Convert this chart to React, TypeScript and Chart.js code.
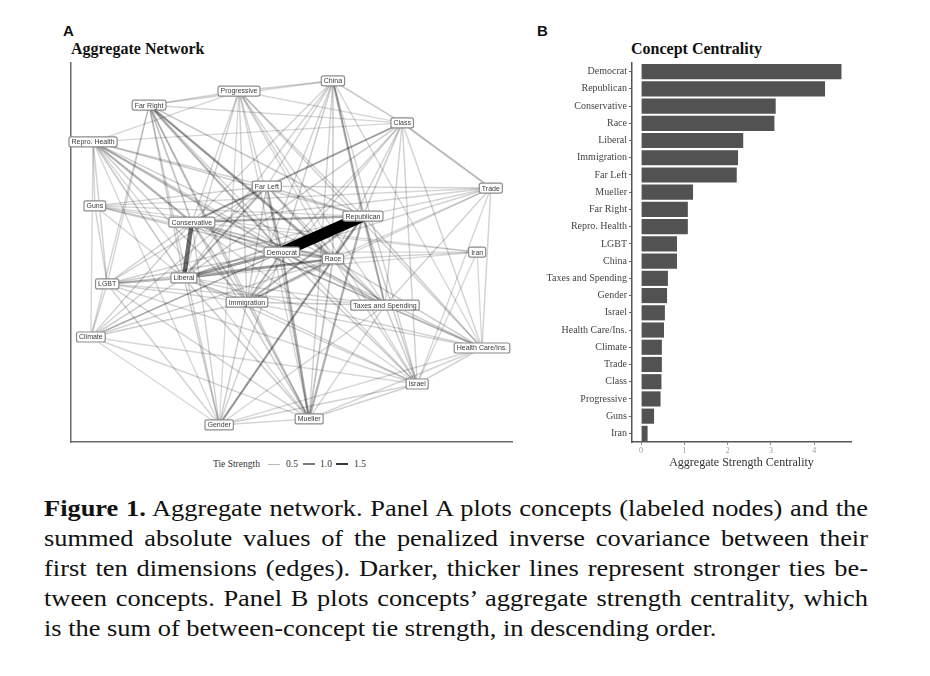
import React, { useEffect, useRef } from "react";
import { Chart, registerables } from "chart.js";

Chart.register(...registerables);

const SERIF = '"Liberation Serif", "Times New Roman", serif';
const SANS = '"Liberation Sans", Arial, sans-serif';

// ---------- Panel A: network layout (node coordinates in layout units 0-100) ----------
const nodeNames = [
  "China", "Progressive", "Far Right", "Class", "Repro. Health", "Far Left", "Trade", "Guns",
  "Conservative", "Republican", "Democrat", "Race", "Iran", "Liberal", "LGBT", "Immigration",
  "Taxes and Spending", "Climate", "Health Care/Ins.", "Israel", "Mueller", "Gender",
];
const nodeX = [59.4, 38.1, 17.7, 75.1, 5.0, 44.4, 95.2, 5.4, 27.4, 66.2, 47.8, 59.4, 92.1, 25.6, 8.2, 39.9, 71.2, 4.5, 93.2, 78.5, 54.0, 33.6];
const nodeY = [95.3, 92.6, 88.9, 84.2, 79.2, 67.5, 67.0, 62.3, 58.0, 59.6, 50.1, 48.3, 50.1, 43.3, 41.7, 36.9, 36.1, 27.7, 24.8, 15.3, 6.1, 4.5];

// edges: [from, to, tie strength]
const edgeList: [string, string, number][] = [
  ["Democrat", "Republican", 2.6],
  ["Conservative", "Liberal", 1.2],
  ["Democrat", "Liberal", 0.7],
  ["Liberal", "Race", 0.6],
  ["Republican", "Race", 0.6],
  ["Conservative", "Republican", 0.55],
  ["Democrat", "Race", 0.5],
  ["Far Right", "Race", 0.55],
  ["Far Right", "Democrat", 0.45],
  ["Democrat", "Mueller", 0.55],
  ["Republican", "Mueller", 0.5],
  ["China", "Republican", 0.45],
  ["Race", "Gender", 0.5],
  ["Class", "Trade", 0.4],
  ["Class", "Far Left", 0.4],
  ["Far Left", "Conservative", 0.5],
  ["Far Left", "Liberal", 0.45],
  ["Immigration", "Race", 0.5],
  ["Immigration", "Republican", 0.45],
  ["Immigration", "Democrat", 0.45],
  ["Repro. Health", "Conservative", 0.5],
  ["Repro. Health", "Democrat", 0.35],
  ["Republican", "Taxes and Spending", 0.4],
  ["Liberal", "LGBT", 0.4],
  ["Conservative", "Democrat", 0.4],
  ["Conservative", "Race", 0.35],
  ["Liberal", "Republican", 0.35],
  ["Far Left", "Democrat", 0.35],
  ["Far Left", "Race", 0.3],
  ["Mueller", "Race", 0.3],
  ["Mueller", "Immigration", 0.3],
  ["Far Right", "Conservative", 0.3],
  ["China", "Progressive", 0.15],
  ["China", "Far Right", 0.12],
  ["China", "Class", 0.25],
  ["China", "Far Left", 0.15],
  ["China", "Conservative", 0.15],
  ["China", "Liberal", 0.15],
  ["China", "Immigration", 0.15],
  ["China", "Democrat", 0.2],
  ["China", "Race", 0.2],
  ["China", "Taxes and Spending", 0.15],
  ["China", "Israel", 0.15],
  ["China", "Health Care/Ins.", 0.12],
  ["China", "Mueller", 0.15],
  ["Progressive", "Far Right", 0.15],
  ["Progressive", "Class", 0.12],
  ["Progressive", "Repro. Health", 0.12],
  ["Progressive", "Conservative", 0.15],
  ["Progressive", "Liberal", 0.15],
  ["Progressive", "Immigration", 0.15],
  ["Progressive", "Democrat", 0.15],
  ["Progressive", "Race", 0.12],
  ["Progressive", "Taxes and Spending", 0.15],
  ["Progressive", "Israel", 0.12],
  ["Progressive", "Health Care/Ins.", 0.15],
  ["Progressive", "Mueller", 0.12],
  ["Progressive", "Gender", 0.1],
  ["Progressive", "Republican", 0.15],
  ["Far Right", "Class", 0.12],
  ["Far Right", "Republican", 0.25],
  ["Far Right", "Liberal", 0.2],
  ["Far Right", "Immigration", 0.2],
  ["Far Right", "Climate", 0.12],
  ["Far Right", "Gender", 0.15],
  ["Far Right", "Taxes and Spending", 0.15],
  ["Far Right", "Mueller", 0.2],
  ["Far Right", "Israel", 0.15],
  ["Far Right", "LGBT", 0.12],
  ["Class", "Conservative", 0.15],
  ["Class", "Liberal", 0.2],
  ["Class", "Republican", 0.2],
  ["Class", "Race", 0.15],
  ["Class", "Taxes and Spending", 0.15],
  ["Class", "Israel", 0.15],
  ["Class", "Health Care/Ins.", 0.15],
  ["Class", "Immigration", 0.15],
  ["Class", "Democrat", 0.15],
  ["Class", "Repro. Health", 0.12],
  ["Repro. Health", "Guns", 0.15],
  ["Repro. Health", "LGBT", 0.15],
  ["Repro. Health", "Climate", 0.12],
  ["Repro. Health", "Liberal", 0.25],
  ["Repro. Health", "Race", 0.2],
  ["Repro. Health", "Immigration", 0.2],
  ["Repro. Health", "Far Left", 0.15],
  ["Repro. Health", "Republican", 0.2],
  ["Repro. Health", "Taxes and Spending", 0.15],
  ["Repro. Health", "Mueller", 0.12],
  ["Repro. Health", "Gender", 0.12],
  ["Far Left", "Trade", 0.15],
  ["Far Left", "Guns", 0.15],
  ["Far Left", "Immigration", 0.2],
  ["Far Left", "Taxes and Spending", 0.15],
  ["Far Left", "Mueller", 0.2],
  ["Far Left", "LGBT", 0.15],
  ["Far Left", "Climate", 0.15],
  ["Far Left", "Republican", 0.25],
  ["Trade", "Guns", 0.12],
  ["Trade", "Conservative", 0.15],
  ["Trade", "Republican", 0.15],
  ["Trade", "Democrat", 0.15],
  ["Trade", "Race", 0.12],
  ["Trade", "Immigration", 0.12],
  ["Trade", "Health Care/Ins.", 0.15],
  ["Trade", "Israel", 0.12],
  ["Trade", "Taxes and Spending", 0.15],
  ["Guns", "LGBT", 0.15],
  ["Guns", "Republican", 0.15],
  ["Guns", "Democrat", 0.2],
  ["Guns", "Race", 0.15],
  ["Guns", "Iran", 0.1],
  ["Guns", "Conservative", 0.15],
  ["Guns", "Liberal", 0.12],
  ["Conservative", "Immigration", 0.25],
  ["Conservative", "Taxes and Spending", 0.2],
  ["Conservative", "Mueller", 0.2],
  ["Conservative", "Gender", 0.15],
  ["Conservative", "LGBT", 0.15],
  ["Conservative", "Climate", 0.15],
  ["Conservative", "Iran", 0.1],
  ["Conservative", "Israel", 0.12],
  ["Conservative", "Health Care/Ins.", 0.12],
  ["Republican", "Israel", 0.2],
  ["Republican", "Health Care/Ins.", 0.2],
  ["Republican", "Climate", 0.15],
  ["Republican", "LGBT", 0.15],
  ["Republican", "Gender", 0.15],
  ["Democrat", "LGBT", 0.2],
  ["Democrat", "Climate", 0.2],
  ["Democrat", "Taxes and Spending", 0.25],
  ["Democrat", "Israel", 0.2],
  ["Democrat", "Health Care/Ins.", 0.2],
  ["Democrat", "Iran", 0.1],
  ["Democrat", "Gender", 0.15],
  ["Race", "Iran", 0.15],
  ["Race", "LGBT", 0.2],
  ["Race", "Climate", 0.15],
  ["Race", "Taxes and Spending", 0.2],
  ["Race", "Israel", 0.15],
  ["Race", "Health Care/Ins.", 0.2],
  ["Liberal", "Immigration", 0.3],
  ["Liberal", "Climate", 0.2],
  ["Liberal", "Mueller", 0.2],
  ["Liberal", "Gender", 0.2],
  ["Liberal", "Taxes and Spending", 0.15],
  ["Liberal", "Iran", 0.1],
  ["Liberal", "Health Care/Ins.", 0.15],
  ["Liberal", "Israel", 0.12],
  ["LGBT", "Climate", 0.15],
  ["LGBT", "Immigration", 0.15],
  ["LGBT", "Gender", 0.15],
  ["LGBT", "Mueller", 0.15],
  ["LGBT", "Taxes and Spending", 0.12],
  ["LGBT", "Israel", 0.12],
  ["Immigration", "Climate", 0.2],
  ["Immigration", "Gender", 0.2],
  ["Immigration", "Taxes and Spending", 0.2],
  ["Immigration", "Health Care/Ins.", 0.15],
  ["Immigration", "Israel", 0.15],
  ["Taxes and Spending", "Health Care/Ins.", 0.2],
  ["Taxes and Spending", "Israel", 0.2],
  ["Taxes and Spending", "Mueller", 0.15],
  ["Taxes and Spending", "Gender", 0.12],
  ["Climate", "Mueller", 0.15],
  ["Climate", "Gender", 0.1],
  ["Climate", "Israel", 0.1],
  ["Health Care/Ins.", "Israel", 0.15],
  ["Health Care/Ins.", "Mueller", 0.15],
  ["Health Care/Ins.", "Gender", 0.12],
  ["Health Care/Ins.", "Iran", 0.1],
  ["Israel", "Mueller", 0.2],
  ["Israel", "Gender", 0.15],
  ["Israel", "Iran", 0.1],
  ["Mueller", "Gender", 0.15],
];

const legendValues = ["0.5", "1.0", "1.5"];

// ---------- Panel B: concept centrality ----------
const conceptLabels = [
  "Democrat", "Republican", "Conservative", "Race", "Liberal", "Immigration", "Far Left",
  "Mueller", "Far Right", "Repro. Health", "LGBT", "China", "Taxes and Spending", "Gender",
  "Israel", "Health Care/Ins.", "Climate", "Trade", "Class", "Progressive", "Guns", "Iran",
];
const centralityValues = [
  4.63, 4.25, 3.11, 3.08, 2.36, 2.24, 2.21, 1.2, 1.08, 1.08, 0.83, 0.83, 0.62, 0.6, 0.55, 0.53,
  0.48, 0.48, 0.47, 0.45, 0.3, 0.15,
];
const centralityTicks = [0, 1, 2, 3, 4];

const captionLines = [
  " Aggregate network. Panel A plots concepts (labeled nodes) and the",
  "summed absolute values of the penalized inverse covariance between their",
  "first ten dimensions (edges). Darker, thicker lines represent stronger ties be-",
  "tween concepts. Panel B plots concepts\u2019 aggregate strength centrality, which",
  "is the sum of between-concept tie strength, in descending order.",
];

function edgeWidth(w: number) {
  return 1.2 + 1.6 * w + 0.9 * w * w;
}
function edgeColor(w: number) {
  const a = Math.min(1, 0.12 + 0.38 * w);
  return `rgba(0,0,0,${a.toFixed(3)})`;
}

const nodeLabelPlugin = {
  id: "nodeLabels",
  afterDraw(chart: any) {
    const { ctx, scales } = chart;
    const xs = scales.x;
    const ys = scales.y;
    ctx.save();
    ctx.font = `7px ${SANS}`;
    ctx.textAlign = "center";
    ctx.textBaseline = "middle";
    nodeNames.forEach((name, i) => {
      const px = xs.getPixelForValue(nodeX[i]);
      const py = ys.getPixelForValue(nodeY[i]);
      const w = ctx.measureText(name).width + 5;
      const h = 10;
      const x0 = px - w / 2;
      const y0 = py - h / 2;
      ctx.beginPath();
      if (ctx.roundRect) ctx.roundRect(x0, y0, w, h, 2);
      else ctx.rect(x0, y0, w, h);
      ctx.fillStyle = "#ffffff";
      ctx.fill();
      ctx.lineWidth = 1.2;
      ctx.strokeStyle = "#8c8c8c";
      ctx.stroke();
      ctx.fillStyle = "#3a3a3a";
      ctx.fillText(name, px, py + 0.5);
    });
    ctx.restore();
  },
};

function NetworkPanel() {
  const ref = useRef<HTMLCanvasElement>(null);
  useEffect(() => {
    const pos = (n: string) => {
      const i = nodeNames.indexOf(n);
      return { x: nodeX[i], y: nodeY[i] };
    };
    const sorted = edgeList.slice().sort((a, b) => b[2] - a[2]);
    const datasets: any[] = sorted.map(([a, b, w]) => ({
      data: [pos(a), pos(b)],
      showLine: true,
      borderColor: edgeColor(w),
      borderWidth: edgeWidth(w),
      borderCapStyle: "butt",
      pointRadius: 0,
      pointHoverRadius: 0,
      fill: false,
    }));
    datasets.push({
      data: nodeNames.map((_, i) => ({ x: nodeX[i], y: nodeY[i] })),
      showLine: false,
      pointRadius: 0,
      pointHoverRadius: 0,
    });
    const chart = new Chart(ref.current as HTMLCanvasElement, {
      type: "scatter",
      data: { datasets },
      options: {
        animation: false,
        responsive: false,
        events: [],
        layout: { autoPadding: false, padding: { left: 16, top: 8, right: 13, bottom: 13 } },
        plugins: { legend: { display: false }, tooltip: { enabled: false }, title: { display: false } },
        scales: {
          x: {
            type: "linear",
            min: 0,
            max: 100,
            ticks: { display: false },
            grid: { display: false, drawTicks: false },
            border: { display: true, color: "#6a6a6a", width: 1.5 },
          },
          y: {
            type: "linear",
            min: 0,
            max: 100,
            ticks: { display: false },
            grid: { display: false, drawTicks: false },
            border: { display: true, color: "#6a6a6a", width: 1.5 },
          },
        },
      } as any,
      plugins: [nodeLabelPlugin],
    });
    return () => chart.destroy();
  }, []);
  return (
    <canvas
      ref={ref}
      width={470}
      height={400}
      style={{ position: "absolute", left: 55, top: 55, width: 470, height: 400 }}
    />
  );
}

function CentralityPanel() {
  const ref = useRef<HTMLCanvasElement>(null);
  useEffect(() => {
    const chart = new Chart(ref.current as HTMLCanvasElement, {
      type: "bar",
      data: {
        labels: conceptLabels,
        datasets: [
          {
            data: centralityValues,
            backgroundColor: "#525252",
            borderWidth: 0,
            barPercentage: 0.88,
            categoryPercentage: 1,
          },
        ],
      },
      options: {
        indexAxis: "y",
        animation: false,
        responsive: false,
        events: [],
        layout: { autoPadding: false, padding: { left: 0, top: 8, right: 19, bottom: 0 } },
        plugins: { legend: { display: false }, tooltip: { enabled: false } },
        scales: {
          x: {
            type: "linear",
            min: -0.21,
            max: 4.85,
            afterBuildTicks: (scale: any) => {
              scale.ticks = centralityTicks.map((v) => ({ value: v }));
            },
            afterFit: (scale: any) => {
              scale.height = 28;
            },
            ticks: {
              color: "#9a9a9a",
              font: { family: SERIF, size: 8 },
              padding: 1,
            },
            grid: { display: true, drawOnChartArea: false, drawTicks: true, tickLength: 3, color: "#8a8a8a" },
            border: { display: true, color: "#555555", width: 1.5 },
            title: {
              display: true,
              text: "Aggregate Strength Centrality",
              color: "#333333",
              font: { family: SERIF, size: 12 },
              padding: { top: 0, bottom: 0 },
            },
          },
          y: {
            type: "category",
            offset: true,
            afterFit: (scale: any) => {
              scale.width = 102;
            },
            ticks: {
              color: "#444444",
              font: { family: SERIF, size: 10 },
              padding: 2,
              autoSkip: false,
            },
            grid: {
              display: true,
              drawOnChartArea: false,
              drawTicks: true,
              tickLength: 3,
              offset: false,
              color: "#666666",
            },
            border: { display: true, color: "#555555", width: 1.5 },
          },
        },
      } as any,
    });
    return () => chart.destroy();
  }, []);
  return (
    <canvas
      ref={ref}
      width={340}
      height={415}
      style={{ position: "absolute", left: 530, top: 55, width: 340, height: 415 }}
    />
  );
}

const abs = (left: number, top: number, extra: React.CSSProperties = {}): React.CSSProperties => ({
  position: "absolute",
  left,
  top,
  whiteSpace: "nowrap",
  ...extra,
});

export default function App() {
  const legendStyle: React.CSSProperties = {
    fontFamily: SERIF,
    fontSize: 9.5,
    lineHeight: "10px",
    color: "#333",
  };
  const dashes = [
    { left: 268, width: 12, h: 1, color: "#b8b8b8" },
    { left: 303, width: 12, h: 1.5, color: "#7a7a7a" },
    { left: 336, width: 12, h: 2, color: "#3a3a3a" },
  ];
  const valueLefts = [286, 320, 354];
  const capScale = 1.148;
  const titleStyle: React.CSSProperties = {
    fontFamily: SERIF,
    fontWeight: "bold",
    fontSize: 16,
    lineHeight: "16px",
    color: "#111",
  };
  return (
    <div style={{ position: "absolute", left: 0, top: 0, width: 930, height: 676, background: "#fff" }}>
      <div style={abs(63, 23, { fontFamily: SANS, fontWeight: "bold", fontSize: 15, lineHeight: "15px", color: "#111" })}>A</div>
      <div style={abs(537, 23, { fontFamily: SANS, fontWeight: "bold", fontSize: 15, lineHeight: "15px", color: "#111" })}>B</div>
      <div style={abs(71, 41, titleStyle)}>Aggregate Network</div>
      <div style={abs(631, 41, titleStyle)}>Concept Centrality</div>
      <NetworkPanel />
      <CentralityPanel />
      <div style={abs(213, 459, legendStyle)}>Tie Strength</div>
      {dashes.map((d, i) => (
        <div
          key={"d" + i}
          style={{ position: "absolute", left: d.left, top: 464 - d.h / 2, width: d.width, height: d.h, background: d.color }}
        />
      ))}
      {legendValues.map((v, i) => (
        <div key={"v" + i} style={abs(valueLefts[i], 459, legendStyle)}>
          {v}
        </div>
      ))}
      {captionLines.map((line, i) => (
        <div
          key={"c" + i}
          style={{
            position: "absolute",
            left: 44,
            top: 494 + i * 30,
            width: 824 / capScale,
            fontFamily: SERIF,
            fontSize: 23,
            lineHeight: "30px",
            color: "#111",
            textAlign: "justify",
            textAlignLast: i < captionLines.length - 1 ? "justify" : "left",
            transform: `scaleX(${capScale})`,
            transformOrigin: "left top",
          } as React.CSSProperties}
        >
          {i === 0 ? <b>Figure 1.</b> : null}
          {line}
        </div>
      ))}
    </div>
  );
}
